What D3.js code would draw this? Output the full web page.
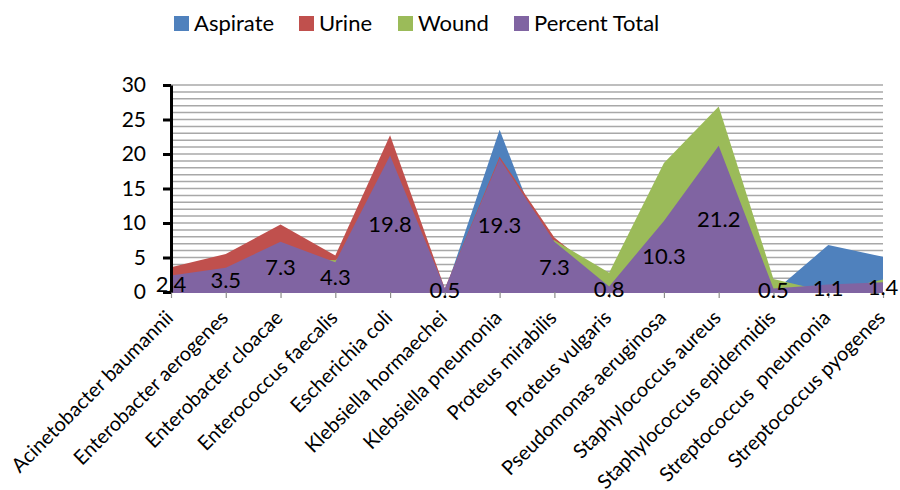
<!DOCTYPE html>
<html>
<head>
<meta charset="utf-8">
<script src="https://cdn.jsdelivr.net/npm/d3@7"></script>
<style>
  html, body { margin: 0; padding: 0; background: #fff; }
  svg { display: block; font-family: Lato, "Open Sans", sans-serif; }
  text { white-space: pre; }
</style>
</head>
<body>
<svg id="chart" width="900" height="490"></svg>
<script>
const categories = [
  "Acinetobacter baumannii", "Enterobacter aerogenes", "Enterobacter cloacae",
  "Enterococcus faecalis", "Escherichia coli", "Klebsiella hormaechei",
  "Klebsiella pneumonia", "Proteus mirabilis", "Proteus vulgaris",
  "Pseudomonas aeruginosa", "Staphylococcus aureus", "Staphylococcus epidermidis",
  "Streptococcus  pneumonia", "Streptococcus pyogenes"
];
const seriesNames = ["Aspirate", "Urine", "Wound", "Percent Total"];
const aspirate     = [1, 2, 3, 2, 12, 0, 23.5, 3, 0, 5, 10, 0, 6.8, 5.1];
const urine        = [3.6, 5.5, 9.8, 5.3, 22.7, 0.5, 19.6, 7.9, 1.5, 5, 10, 0, 0, 0];
const wound        = [1, 2, 5, 4.6, 10, 0, 7, 7.5, 2.8, 18.7, 26.9, 1.9, 0, 1.8];
const percentTotal = [2.4, 3.5, 7.3, 4.3, 19.8, 0.5, 19.3, 7.3, 0.8, 10.3, 21.2, 0.5, 1.1, 1.4];
const yTicks = [0, 5, 10, 15, 20, 25, 30];
const colors = ["#4F81BD", "#C0504D", "#9BBB59", "#8064A2"];

const seriesValues = [aspirate, urine, wound, percentTotal];

const svg = d3.select("#chart");
const pLeft = 171, pRight = 883, pTop = 85, pBottom = 292;

const x = d3.scalePoint().domain(categories).range([pLeft, pRight]);
const y = d3.scaleLinear().domain([0, 30]).range([pBottom, pTop]);

// gridlines every unit
svg.append("g")
  .selectAll("line")
  .data(d3.range(1, 31))
  .join("line")
  .attr("x1", pLeft).attr("x2", pRight)
  .attr("y1", d => y(d)).attr("y2", d => y(d))
  .attr("stroke", "#a8a8a8")
  .attr("stroke-width", 1.5);

// areas, drawn in series order (later on top)
const area = d3.area()
  .x((d, i) => x(categories[i]))
  .y0(y(0))
  .y1(d => y(d));

svg.append("g")
  .selectAll("path")
  .data(seriesValues)
  .join("path")
  .attr("d", d => area(d))
  .attr("fill", (d, i) => colors[i]);

// x axis ticks and labels
const xAxis = d3.axisBottom(x).tickSize(6).tickSizeOuter(0).tickPadding(0);
const gx = svg.append("g").attr("transform", `translate(0,${pBottom})`).call(xAxis);
gx.select(".domain").attr("stroke", "#8064A2").attr("stroke-width", 1);
gx.selectAll(".tick line").attr("stroke", "#8c8c8c").attr("stroke-width", 1.2);
gx.selectAll(".tick text")
  .attr("font-family", "Lato, sans-serif")
  .attr("font-size", 20)
  .attr("fill", "#000")
  .attr("text-anchor", "end")
  .attr("y", 0).attr("dy", 0)
  .attr("transform", "translate(3,27) rotate(-45)");

// data labels for Percent Total
svg.append("g")
  .selectAll("text")
  .data(percentTotal)
  .join("text")
  .attr("x", (d, i) => x(categories[i]))
  .attr("y", d => y(d / 2))
  .attr("dy", "0.36em")
  .attr("text-anchor", "middle")
  .attr("font-size", 22)
  .attr("fill", "#000")
  .text(d => d);

// y axis
const yAxis = d3.axisLeft(y).tickValues(yTicks).tickSize(8).tickSizeOuter(0).tickPadding(17);
const gy = svg.append("g").attr("transform", `translate(${pLeft},0)`).call(yAxis);
gy.select(".domain").attr("stroke", "#000").attr("stroke-width", 3);
gy.selectAll(".tick line").attr("stroke", "#000").attr("stroke-width", 3);
gy.selectAll(".tick text")
  .attr("font-family", "Lato, sans-serif")
  .attr("font-size", 21)
  .attr("fill", "#000");

// legend
const legendX = [174, 299, 398, 514];
const lg = svg.append("g")
  .selectAll("g")
  .data(seriesNames)
  .join("g")
  .attr("transform", (d, i) => `translate(${legendX[i]},16)`);
lg.append("rect").attr("width", 15).attr("height", 15).attr("fill", (d, i) => colors[i]);
lg.append("text")
  .attr("x", 20).attr("y", 15)
  .attr("font-size", 22)
  .attr("fill", "#000")
  .text(d => d);
</script>
</body>
</html>
